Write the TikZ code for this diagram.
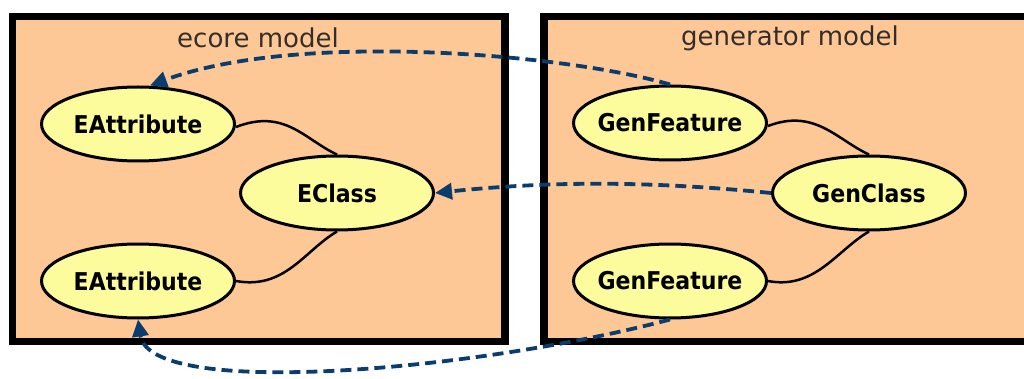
\documentclass[tikz,border=0pt]{standalone}
\usepackage{fontspec}
\setmainfont{DejaVu Sans}
\newfontfamily\labelfont{DejaVu Sans Condensed}
\usetikzlibrary{arrows.meta,shapes.geometric}
\definecolor{boxfill}{HTML}{FEC896}
\definecolor{nodefill}{HTML}{FCFC9C}
\definecolor{linkblue}{HTML}{0B3C6E}
\definecolor{titlegray}{HTML}{352D2A}
\tikzset{
  model/.style={draw=black, line width=7.5pt, fill=boxfill},
  modeltitle/.style={text=titlegray, font=\fontsize{26}{30}\selectfont, inner sep=0pt},
  cls/.style={ellipse, draw=black, line width=3pt, fill=nodefill,
    minimum width=193pt, minimum height=74pt, inner xsep=-40pt, inner ysep=0pt,
    font=\labelfont\bfseries\fontsize{24.5}{28}\selectfont},
  assoc/.style={draw=black, line width=2.5pt},
  mapsto/.style={draw=linkblue, line width=3.8pt, dash pattern=on 11pt off 6pt,
    -{Triangle[length=17pt,width=16pt]}},
}
\begin{document}
\begin{tikzpicture}[x=1pt,y=-1pt]
  \useasboundingbox (0,0) rectangle (1024,379);
  \begin{scope}
    \clip (0,0) rectangle (1024,379);
    % the two model containers
    \draw[model] (12.5,16.5) rectangle (505,341.5);
    \draw[model] (544,16.5) rectangle (1040,341.5);
  \end{scope}
  \node[modeltitle] (ecoretitle) at (258,38) {ecore model};
  \node[modeltitle] (gentitle) at (790,38) {generator model};

  % ecore side
  \node[cls] (ea1) at (138,124) {EAttribute};
  \node[cls] (ec)  at (337,193) {EClass};
  \node[cls] (ea2) at (138,281) {EAttribute};
  % generator side
  \node[cls] (gf1) at (670,123) {GenFeature};
  \node[cls] (gc)  at (869,193) {GenClass};
  \node[cls] (gf2) at (670,281) {GenFeature};

  % containment links
  \draw[assoc] ([yshift=-3pt]ea1.east) .. controls (285,108) and (305,140) .. (ec.north);
  \draw[assoc] (ea2.east) .. controls (285,290) and (305,250) .. (ec.south);
  \draw[assoc] ([yshift=-3pt]gf1.east) .. controls (815,108) and (837,140) .. (gc.north);
  \draw[assoc] (gf2.east) .. controls (815,290) and (837,250) .. (gc.south);

  % generator-to-ecore references
  \draw[mapsto] (gf1.north) .. controls (570,55) and (300,30) .. ([xshift=12pt]ea1.north);
  \draw[mapsto] (gc.west) .. controls (660,182) and (560,180) .. (ec.east);
  \draw[mapsto] (gf2.south) .. controls (480,370) and (150,400) .. (ea2.south);
\end{tikzpicture}
\end{document}
